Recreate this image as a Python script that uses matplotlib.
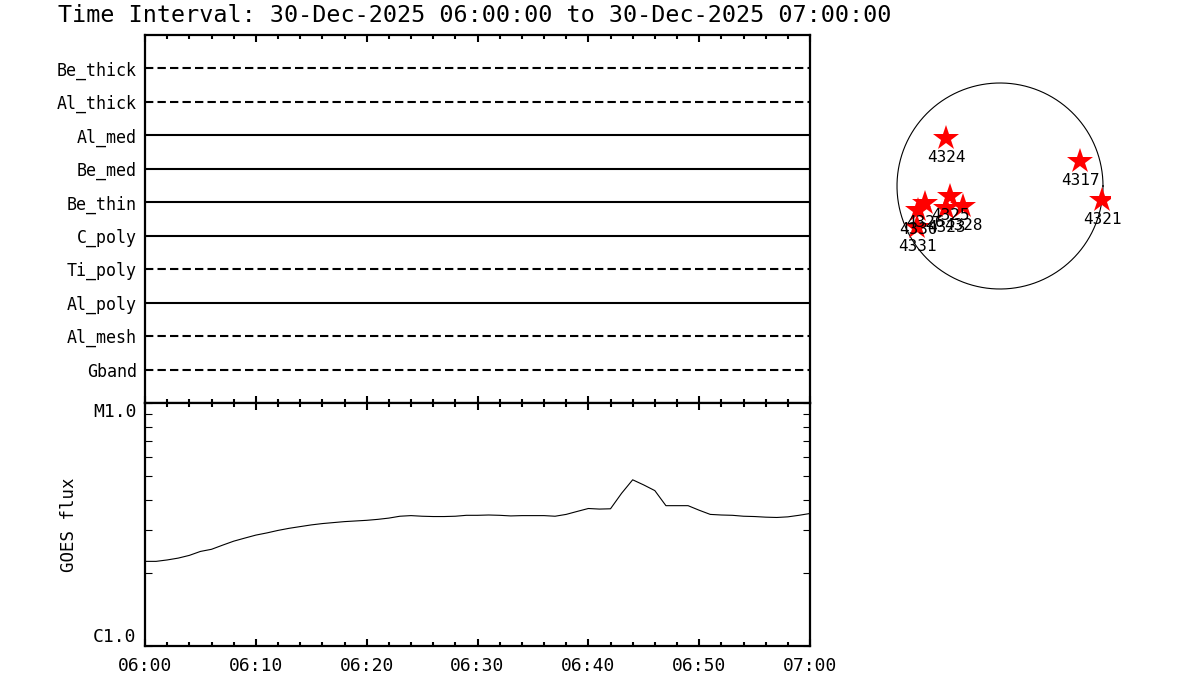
import numpy as np
import matplotlib
matplotlib.use("Agg")
import matplotlib.pyplot as plt
from matplotlib.ticker import MultipleLocator, LogLocator, NullFormatter, FixedLocator

plt.rcParams['font.family'] = ['DejaVu Sans Mono']

title = "Time Interval: 30-Dec-2025 06:00:00 to 30-Dec-2025 07:00:00"

# channels, top to bottom, and whether the row is drawn dashed
channels = ["Be_thick", "Al_thick", "Al_med", "Be_med", "Be_thin",
            "C_poly", "Ti_poly", "Al_poly", "Al_mesh", "Gband"]
dashed = [True, True, False, False, False, False, True, False, True, True]

# GOES flux, one value per minute from 06:00 to 07:00 (W/m^2)
minutes = list(range(61))
goes_flux = [2.23, 2.23, 2.26, 2.30, 2.36, 2.45, 2.50, 2.60, 2.70, 2.78,
             2.86, 2.92, 2.99, 3.05, 3.10, 3.15, 3.19, 3.22, 3.25, 3.27,
             3.29, 3.32, 3.36, 3.42, 3.44, 3.42, 3.41, 3.41, 3.42, 3.45,
             3.45, 3.46, 3.45, 3.43, 3.44, 3.44, 3.44, 3.42, 3.48, 3.58,
             3.68, 3.66, 3.67, 4.25, 4.83, 4.60, 4.36, 3.78, 3.78, 3.78,
             3.62, 3.48, 3.46, 3.45, 3.42, 3.41, 3.39, 3.38, 3.40, 3.45,
             3.51]
goes_flux = [v * 1e-6 for v in goes_flux]

time_ticks = [0, 10, 20, 30, 40, 50, 60]
time_labels = ["06:00", "06:10", "06:20", "06:30", "06:40", "06:50", "07:00"]

# active regions on the disk (arcsec from disk centre)
ar_names = ["4324", "4317", "4321", "4326", "4330", "4325", "4323", "4328", "4331"]
ar_x = [-503, 746, 951, -699, -764, -466, -503, -345, -773]
ar_y = [447, 233, -130, -158, -224, -93, -205, -186, -382]
r_sun = 960

W, H = 1200, 700
fig = plt.figure(figsize=(12, 7), dpi=100)

def px(l, t, r, b):
    return [l / W, 1 - b / H, (r - l) / W, (b - t) / H]

ax1 = fig.add_axes(px(145, 35, 810, 403))
ax2 = fig.add_axes(px(145, 403, 810, 646))
ax3 = fig.add_axes(px(890, 76, 1110, 296))

fig.text(58 / W, 1 - 16 / H, title, fontsize=16.8, va='center', ha='left')

# upper panel: channel rows
n = len(channels)
for i, (name, d) in enumerate(zip(channels, dashed)):
    yv = n - i
    ls = (0, (4, 2)) if d else '-'
    ax1.axhline(yv, color='black', lw=1.5, ls=ls)
ax1.set_ylim(0, n + 1)
ax1.set_xlim(0, 60)
ax1.set_yticks([n - i for i in range(n)])
ax1.set_yticklabels(channels, fontsize=12)
ax1.tick_params(axis='y', length=0, pad=6)
ax1.xaxis.set_major_locator(MultipleLocator(10))
ax1.xaxis.set_minor_locator(MultipleLocator(2))
ax1.tick_params(axis='x', which='both', direction='in', top=True, bottom=True,
                labelbottom=False, width=1.5)
ax1.tick_params(axis='x', which='major', length=5)
ax1.tick_params(axis='x', which='minor', length=2.8)
for s in ax1.spines.values():
    s.set_linewidth(1.6)

# lower panel: GOES flux
ax2.plot(minutes, goes_flux, color='black', lw=0.8)
ax2.set_yscale('log')
ax2.set_ylim(1e-6, 1e-5)
ax2.set_xlim(0, 60)
ax2.yaxis.set_major_locator(FixedLocator([1e-6, 1e-5]))
ax2.set_yticklabels(["C1.0", "M1.0"], fontsize=13)
ax2.yaxis.set_minor_locator(LogLocator(base=10, subs=np.arange(2, 10)))
ax2.yaxis.set_minor_formatter(NullFormatter())
ax2.tick_params(axis='y', which='both', direction='in', left=True, right=True,
                width=0.8, length=5, pad=6)
lbls = ax2.get_yticklabels()
lbls[0].set_va('bottom')
lbls[1].set_va('top')
ax2.set_xticks(time_ticks)
ax2.set_xticklabels(time_labels, fontsize=13)
ax2.xaxis.set_minor_locator(MultipleLocator(2))
ax2.tick_params(axis='x', which='both', direction='in', top=True, bottom=True,
                width=1.5, pad=8)
ax2.tick_params(axis='x', which='major', length=5)
ax2.tick_params(axis='x', which='minor', length=2.8)
ax2.set_ylabel("GOES flux", fontsize=12.5, labelpad=11)
for s in ax2.spines.values():
    s.set_linewidth(1.6)

# solar disk with active regions
t = np.linspace(0, 2 * np.pi, 400)
ax3.plot(r_sun * np.cos(t), r_sun * np.sin(t), color='black', lw=0.8)
ax3.plot(ar_x, ar_y, ls='none', marker='*', color='red', markersize=19,
         markeredgewidth=0)
for name, x, y in zip(ar_names, ar_x, ar_y):
    ax3.annotate(name, (x, y), xytext=(0, -14), textcoords='offset points',
                 ha='center', va='center', fontsize=11.5)
lim = r_sun * 110 / 103
ax3.set_xlim(-lim, lim)
ax3.set_ylim(-lim, lim)
ax3.set_aspect('equal')
ax3.axis('off')

fig.savefig("out.png", dpi=100)
